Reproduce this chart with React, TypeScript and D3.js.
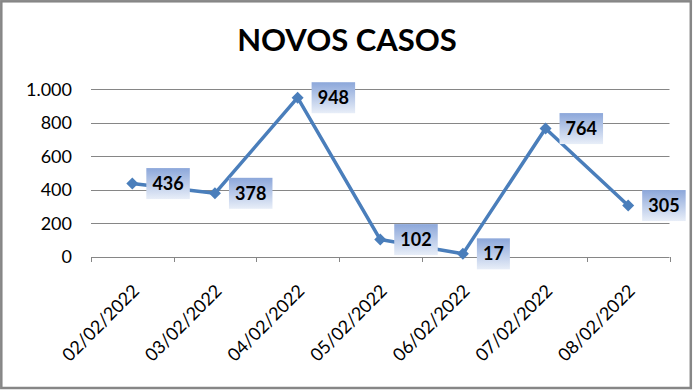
import React from "react";
import * as d3 from "d3";

const title = "NOVOS CASOS";
const categories = ["02/02/2022", "03/02/2022", "04/02/2022", "05/02/2022", "06/02/2022", "07/02/2022", "08/02/2022"];
const values = [436, 378, 948, 102, 17, 764, 305];
const yTicks = [0, 200, 400, 600, 800, 1000];

const W = 694;
const H = 391;
const FONT = "Lato, 'Open Sans', sans-serif";
const LINE = "#4A7EBB";
const GRID = "#868686";

export default function App() {
  const x = d3.scaleBand<string>().domain(categories).range([91, 669.5]).padding(0);
  const y = d3.scaleLinear().domain([0, 1000]).range([256.7, 89]);
  const fmt = d3.formatLocale({ decimal: ",", thousands: ".", grouping: [3], currency: ["", ""] }).format(",");
  const cx = (c: string) => (x(c) as number) + x.bandwidth() / 2;
  const pts: [number, number][] = categories.map((c, i) => [cx(c), y(values[i])]);
  const line = d3.line()(pts) as string;
  const diamond = d3.symbol(d3.symbolSquare, 72)() as string;
  const boundaries = [...categories.map((c) => x(c) as number), 669.5];

  return (
    <svg width={W} height={H} style={{ position: "absolute", left: 0, top: 0, background: "#fff" }} fontFamily={FONT}>
      <defs>
        <linearGradient id="lbl" x1="0" y1="0" x2="0" y2="1">
          <stop offset="0" stopColor="#8CA7DA" />
          <stop offset="1" stopColor="#E8EEF8" />
        </linearGradient>
      </defs>
      <rect x={0} y={0} width={W} height={H} fill="#fff" />
      <rect x={1.3} y={1.3} width={689.5} height={386.7} fill="none" stroke="#868686" strokeWidth={2.5} />
      <text x={347} y={51} textAnchor="middle" fontSize={31} fontWeight="bold" fill="#000">{title}</text>
      {yTicks.map((t) => (
        <g key={t}>
          <line x1={91} x2={669.5} y1={Math.round(y(t)) + 0.5} y2={Math.round(y(t)) + 0.5} stroke={GRID} strokeWidth={1} />
          <text x={72} y={y(t) + 6.5} textAnchor="end" fontSize={18} fill="#000">{fmt(t)}</text>
        </g>
      ))}
      {boundaries.map((bx, i) => (
        <line key={i} x1={Math.round(bx) + 0.5} x2={Math.round(bx) + 0.5} y1={257} y2={262} stroke={GRID} strokeWidth={1} />
      ))}
      {categories.map((c) => (
        <text key={c} transform={`translate(${cx(c) + 8},${292}) rotate(-45)`} textAnchor="end" fontSize={18} fill="#000">{c}</text>
      ))}
      <path d={line} fill="none" stroke={LINE} strokeWidth={3.5} strokeLinejoin="round" />
      {pts.map(([px, py], i) => (
        <path key={i} d={diamond} transform={`translate(${px},${py}) rotate(45)`} fill={LINE} />
      ))}
      {pts.map(([px, py], i) => {
        const s = String(values[i]);
        const bw = s.length * 10.5 + 12;
        return (
          <g key={"l" + i}>
            <rect x={px + 14} y={py - 15.5} width={bw} height={31} fill="url(#lbl)" />
            <text x={px + 14 + bw / 2} y={py + 6.5} textAnchor="middle" fontSize={18} fontWeight="bold" fill="#000">{s}</text>
          </g>
        );
      })}
    </svg>
  );
}
